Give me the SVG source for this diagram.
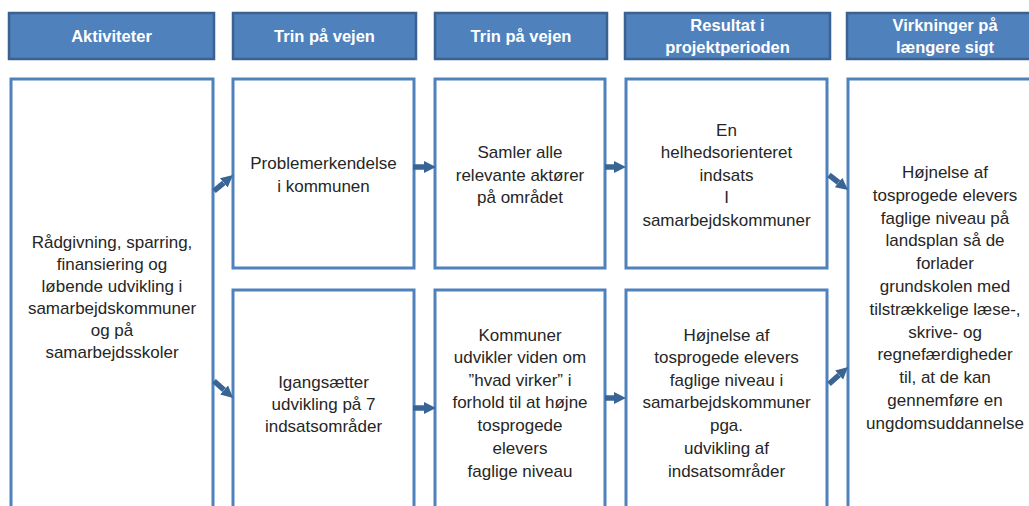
<svg xmlns="http://www.w3.org/2000/svg" width="1029" height="506" viewBox="0 0 1029 506">
<style>
.hdr{fill:#4F81BD;stroke:#3A6190;stroke-width:2.5}
.box{fill:#FFFFFF;stroke:#4F81BD;stroke-width:3}
.ht{font-family:"Liberation Sans",Arial,sans-serif;font-size:16.5px;font-weight:bold;fill:#FFFFFF;text-anchor:middle}
.bt{font-family:"Liberation Sans",Arial,sans-serif;font-size:17px;fill:#262626;text-anchor:middle}
.arr{stroke:#3A6494;stroke-width:5.5;fill:none;marker-end:url(#ah)}
</style>
<defs>
<marker id="ah" viewBox="0 0 10 10" refX="0" refY="5" markerUnits="userSpaceOnUse" markerWidth="12" markerHeight="14" orient="auto">
<path d="M0,0 L10,5 L0,10 z" fill="#3A6494"/>
</marker>
</defs>
<rect width="1029" height="506" fill="#FFFFFF"/>

<g id="h1"><rect class="hdr" x="9" y="13" width="205" height="46"/><text class="ht" x="111.5" y="42">Aktiviteter</text></g>
<g id="h2"><rect class="hdr" x="233" y="13" width="183" height="46"/><text class="ht" x="324.5" y="42">Trin på vejen</text></g>
<g id="h3"><rect class="hdr" x="435" y="13" width="172" height="46"/><text class="ht" x="521" y="42">Trin på vejen</text></g>
<g id="h4"><rect class="hdr" x="625" y="13" width="205" height="46"/><text class="ht" x="727.5" y="31">Resultat i</text><text class="ht" x="727.5" y="53">projektperioden</text></g>
<g id="h5"><rect class="hdr" x="847" y="13" width="196" height="46"/><text class="ht" x="945" y="31">Virkninger på</text><text class="ht" x="945" y="53">længere sigt</text></g>

<g id="b1"><rect class="box" x="11" y="79" width="202" height="450"/>
<text class="bt" x="112" y="248">Rådgivning, sparring,</text>
<text class="bt" x="112" y="270">finansiering og</text>
<text class="bt" x="112" y="292">løbende udvikling i</text>
<text class="bt" x="112" y="314">samarbejdskommuner</text>
<text class="bt" x="112" y="336">og på</text>
<text class="bt" x="112" y="358">samarbejdsskoler</text>
</g>

<g id="b2a"><rect class="box" x="233" y="79" width="181" height="189"/>
<text class="bt" x="323.5" y="169">Problemerkendelse</text>
<text class="bt" x="323.5" y="192">i kommunen</text>
</g>
<g id="b2b"><rect class="box" x="233" y="290" width="181" height="240"/>
<text class="bt" x="323.5" y="388">Igangsætter</text>
<text class="bt" x="323.5" y="410">udvikling på 7</text>
<text class="bt" x="323.5" y="432">indsatsområder</text>
</g>

<g id="b3a"><rect class="box" x="435" y="79" width="170" height="189"/>
<text class="bt" x="520" y="158">Samler alle</text>
<text class="bt" x="520" y="181">relevante aktører</text>
<text class="bt" x="520" y="203">på området</text>
</g>
<g id="b3b"><rect class="box" x="435" y="290" width="170" height="240"/>
<text class="bt" x="520" y="341">Kommuner</text>
<text class="bt" x="520" y="363">udvikler viden om</text>
<text class="bt" x="520" y="386">”hvad virker” i</text>
<text class="bt" x="520" y="408">forhold til at højne</text>
<text class="bt" x="520" y="431">tosprogede</text>
<text class="bt" x="520" y="454">elevers</text>
<text class="bt" x="520" y="477">faglige niveau</text>
</g>

<g id="b4a"><rect class="box" x="626" y="79" width="201" height="189"/>
<text class="bt" x="726.5" y="136">En</text>
<text class="bt" x="726.5" y="158">helhedsorienteret</text>
<text class="bt" x="726.5" y="181">indsats</text>
<text class="bt" x="726.5" y="203">I</text>
<text class="bt" x="726.5" y="226">samarbejdskommuner</text>
</g>
<g id="b4b"><rect class="box" x="626" y="290" width="201" height="240"/>
<text class="bt" x="726.5" y="341">Højnelse af</text>
<text class="bt" x="726.5" y="363">tosprogede elevers</text>
<text class="bt" x="726.5" y="386">faglige niveau i</text>
<text class="bt" x="726.5" y="408">samarbejdskommuner</text>
<text class="bt" x="726.5" y="431">pga.</text>
<text class="bt" x="726.5" y="454">udvikling af</text>
<text class="bt" x="726.5" y="477">indsatsområder</text>
</g>

<g id="b5"><rect class="box" x="848" y="79" width="196" height="450"/>
<text class="bt" x="945" y="178">Højnelse af</text>
<text class="bt" x="945" y="201">tosprogede elevers</text>
<text class="bt" x="945" y="224">faglige niveau på</text>
<text class="bt" x="945" y="246">landsplan så de</text>
<text class="bt" x="945" y="269">forlader</text>
<text class="bt" x="945" y="292">grundskolen med</text>
<text class="bt" x="945" y="315">tilstrækkelige læse-,</text>
<text class="bt" x="945" y="338">skrive- og</text>
<text class="bt" x="945" y="360">regnefærdigheder</text>
<text class="bt" x="945" y="383">til, at de kan</text>
<text class="bt" x="945" y="406">gennemføre en</text>
<text class="bt" x="945" y="429">ungdomsuddannelse</text>
</g>

<g id="connectors">
<line class="arr" x1="214" y1="191" x2="223.8" y2="182.8"/>
<line class="arr" x1="214" y1="381" x2="224.1" y2="390"/>
<line class="arr" x1="413" y1="167" x2="424" y2="167"/>
<line class="arr" x1="413" y1="408" x2="424" y2="408"/>
<line class="arr" x1="605" y1="167" x2="614" y2="167"/>
<line class="arr" x1="605" y1="398" x2="614" y2="398"/>
<line class="arr" x1="829" y1="175" x2="838.6" y2="182.5"/>
<line class="arr" x1="829" y1="384" x2="839.1" y2="375"/>
</g>
</svg>
